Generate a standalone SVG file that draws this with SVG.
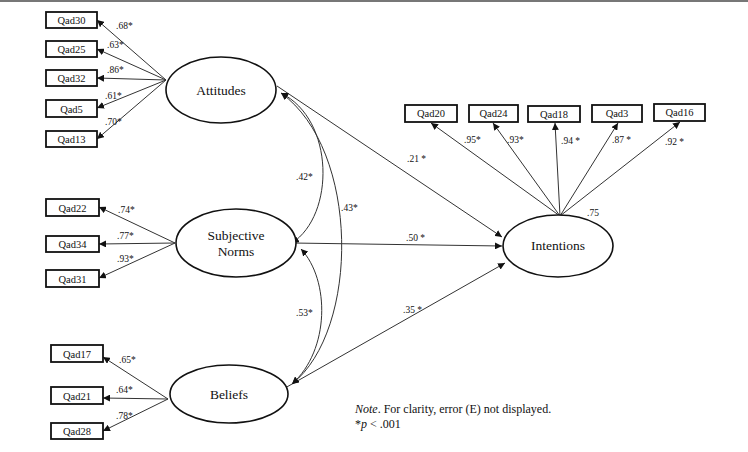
<svg xmlns="http://www.w3.org/2000/svg" width="748" height="452" viewBox="0 0 748 452" font-family="'Liberation Serif', 'DejaVu Serif', serif">
<style>
text{font-family:'Liberation Serif','DejaVu Serif',serif;fill:#111}
.box rect{fill:#fff;stroke:#111;stroke-width:1.8}
.box text{font-size:10.5px;text-anchor:middle}
.lat ellipse{fill:#fff;stroke:#111;stroke-width:1.6}
.lat text{font-size:13.5px;text-anchor:middle}
.c{fill:none;stroke:#333;stroke-width:1}
.cv{fill:none;stroke:#333;stroke-width:1}
.lb{font-size:9.5px}
.note{font-size:12px}
</style>
<defs>
<marker id="ah" viewBox="0 0 10 10" refX="10" refY="5" markerWidth="7" markerHeight="7" orient="auto-start-reverse" markerUnits="userSpaceOnUse">
<path d="M0,0 L10,5 L0,10 z" fill="#111"/>
</marker>
</defs>
<rect x="0" y="0" width="748" height="452" fill="#fff"/>
<rect x="0" y="0" width="748" height="2" fill="#777"/>

<g id="connectors">
<line class="c" x1="166" y1="80" x2="97" y2="20" marker-end="url(#ah)"/>
<line class="c" x1="166" y1="80" x2="97" y2="49" marker-end="url(#ah)"/>
<line class="c" x1="166" y1="80" x2="97" y2="78" marker-end="url(#ah)"/>
<line class="c" x1="166" y1="80" x2="97" y2="108" marker-end="url(#ah)"/>
<line class="c" x1="166" y1="80" x2="97" y2="139" marker-end="url(#ah)"/>
<line class="c" x1="175" y1="243" x2="99" y2="207" marker-end="url(#ah)"/>
<line class="c" x1="175" y1="243" x2="99" y2="244" marker-end="url(#ah)"/>
<line class="c" x1="175" y1="243" x2="99" y2="278" marker-end="url(#ah)"/>
<line class="c" x1="168" y1="399" x2="103" y2="357" marker-end="url(#ah)"/>
<line class="c" x1="168" y1="399" x2="103" y2="398" marker-end="url(#ah)"/>
<line class="c" x1="168" y1="399" x2="103" y2="431" marker-end="url(#ah)"/>
<line class="c" x1="560" y1="216" x2="431" y2="123" marker-end="url(#ah)"/>
<line class="c" x1="560" y1="216" x2="493" y2="123" marker-end="url(#ah)"/>
<line class="c" x1="560" y1="216" x2="555" y2="123" marker-end="url(#ah)"/>
<line class="c" x1="560" y1="216" x2="618" y2="123" marker-end="url(#ah)"/>
<line class="c" x1="560" y1="216" x2="680" y2="122" marker-end="url(#ah)"/>
<line class="c" x1="277" y1="86" x2="502" y2="237" marker-end="url(#ah)"/>
<line class="c" x1="292" y1="243" x2="502" y2="246" marker-end="url(#ah)"/>
<line class="c" x1="285" y1="388" x2="505" y2="263" marker-end="url(#ah)"/>
<path class="cv" d="M281,93 C335,120 335,215 292,243" marker-start="url(#ah)" marker-end="url(#ah)"/>
<path class="cv" d="M281,93 C360,150 360,330 292,384" marker-start="url(#ah)" marker-end="url(#ah)"/>
<path class="cv" d="M301,249 C330,280 330,350 292,384" marker-start="url(#ah)" marker-end="url(#ah)"/>
</g>

<g id="labels">
<text class="lb" x="116" y="29">.68*</text>
<text class="lb" x="107" y="48">.63*</text>
<text class="lb" x="107" y="73">.86*</text>
<text class="lb" x="105" y="99">.61*</text>
<text class="lb" x="105" y="125">.70*</text>
<text class="lb" x="118" y="213">.74*</text>
<text class="lb" x="117" y="239">.77*</text>
<text class="lb" x="117" y="262">.93*</text>
<text class="lb" x="119" y="363">.65*</text>
<text class="lb" x="116" y="393">.64*</text>
<text class="lb" x="116" y="419">.78*</text>
<text class="lb" x="464" y="143">.95*</text>
<text class="lb" x="507" y="143">.93*</text>
<text class="lb" x="561" y="144">.94 *</text>
<text class="lb" x="612" y="143">.87 *</text>
<text class="lb" x="665" y="145">.92 *</text>
<text class="lb" x="587" y="216">.75</text>
<text class="lb" x="407" y="162">.21 *</text>
<text class="lb" x="296" y="180">.42*</text>
<text class="lb" x="341" y="211">.43*</text>
<text class="lb" x="406" y="241">.50 *</text>
<text class="lb" x="296" y="316">.53*</text>
<text class="lb" x="403" y="313">.35 *</text>
</g>

<g id="Qad30" class="box"><rect x="46" y="12" width="51" height="16"/><text x="71.5" y="24">Qad30</text></g>
<g id="Qad25" class="box"><rect x="46" y="41" width="51" height="16"/><text x="71.5" y="53">Qad25</text></g>
<g id="Qad32" class="box"><rect x="46" y="70" width="51" height="16"/><text x="71.5" y="82">Qad32</text></g>
<g id="Qad5" class="box"><rect x="46" y="100" width="51" height="17"/><text x="71.5" y="113">Qad5</text></g>
<g id="Qad13" class="box"><rect x="46" y="131" width="51" height="16"/><text x="71.5" y="143">Qad13</text></g>

<g id="Qad22" class="box"><rect x="46" y="199" width="53" height="17"/><text x="72.5" y="212">Qad22</text></g>
<g id="Qad34" class="box"><rect x="46" y="236" width="53" height="16"/><text x="72.5" y="248">Qad34</text></g>
<g id="Qad31" class="box"><rect x="46" y="270" width="53" height="17"/><text x="72.5" y="283">Qad31</text></g>

<g id="Qad17" class="box"><rect x="51" y="345" width="52" height="17"/><text x="77" y="358">Qad17</text></g>
<g id="Qad21" class="box"><rect x="51" y="387" width="52" height="17"/><text x="77" y="400">Qad21</text></g>
<g id="Qad28" class="box"><rect x="51" y="423" width="52" height="16"/><text x="77" y="435">Qad28</text></g>

<g id="Qad20" class="box"><rect x="405" y="105" width="52" height="17"/><text x="431" y="117">Qad20</text></g>
<g id="Qad24" class="box"><rect x="469" y="105" width="49" height="17"/><text x="493.5" y="117">Qad24</text></g>
<g id="Qad18" class="box"><rect x="528" y="106" width="52" height="16"/><text x="554" y="118">Qad18</text></g>
<g id="Qad3" class="box"><rect x="592" y="105" width="50" height="17"/><text x="617" y="117">Qad3</text></g>
<g id="Qad16" class="box"><rect x="654" y="104" width="51" height="17"/><text x="679.5" y="116">Qad16</text></g>

<g id="Attitudes" class="lat"><ellipse cx="221" cy="90" rx="55" ry="33"/><text x="221" y="95">Attitudes</text></g>
<g id="SubjectiveNorms" class="lat"><ellipse cx="236" cy="243" rx="60" ry="34"/><text x="236" y="240">Subjective</text><text x="236" y="256">Norms</text></g>
<g id="Beliefs" class="lat"><ellipse cx="229" cy="394" rx="59" ry="29"/><text x="229" y="399">Beliefs</text></g>
<g id="Intentions" class="lat"><ellipse cx="558" cy="246" rx="55" ry="31"/><text x="558" y="250">Intentions</text></g>

<g id="note">
<text class="note" x="355" y="413"><tspan font-style="italic">Note</tspan>. For clarity, error (E) not displayed.</text>
<text class="note" x="355" y="428">*<tspan font-style="italic">p</tspan> &lt; .001</text>
</g>
</svg>
